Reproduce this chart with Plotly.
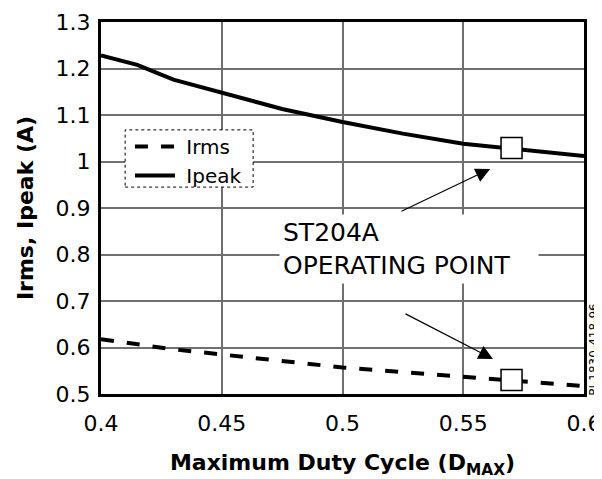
import plotly.graph_objects as go

# Maximum duty cycle (x axis)
d_max = [0.4, 0.415, 0.43, 0.45, 0.475, 0.5, 0.525, 0.55, 0.575, 0.6]
# current curves
ipeak = [1.228, 1.208, 1.176, 1.148, 1.113, 1.085, 1.06, 1.038, 1.025, 1.012]
irms = [0.618, 0.606, 0.596, 0.585, 0.57, 0.557, 0.547, 0.537, 0.527, 0.517]

# ST204A operating point
op_d = [0.57, 0.57]
op_i = [1.029, 0.530]

FONT = "DejaVu Sans"

fig = go.Figure()

fig.add_trace(go.Scatter(
    x=d_max, y=irms, mode="lines", name="\u00a0Irms",
    line=dict(color="black", width=4, dash="13px,13px"),
))
fig.add_trace(go.Scatter(
    x=d_max, y=ipeak, mode="lines", name="\u00a0Ipeak",
    line=dict(color="black", width=4),
))
fig.add_trace(go.Scatter(
    x=op_d, y=op_i, mode="markers", showlegend=False,
    marker=dict(symbol="square", size=21, color="white",
                line=dict(color="black", width=1.5)),
))

# legend frame (dotted box, white fill hides the grid)
fig.add_shape(type="rect", xref="x", yref="y",
              x0=0.41, x1=0.463, y0=0.945, y1=1.068,
              fillcolor="white", line=dict(color="black", width=1, dash="dot"),
              layer="above")

# operating point label + arrows
fig.add_annotation(
    x=0.4737, y=0.8108, xref="x", yref="y", xanchor="left", yanchor="middle",
    text="ST204A<br>OPERATING POINT", showarrow=False, align="left",
    width=252, bgcolor="white", borderpad=3,
    font=dict(family=FONT, size=25, color="black"),
)
for tail, head in [((0.5238, 0.8914), (0.5611, 0.984)),
                   ((0.5255, 0.674), (0.5623, 0.5753))]:
    fig.add_annotation(
        x=head[0], y=head[1], ax=tail[0], ay=tail[1],
        xref="x", yref="y", axref="x", ayref="y", text="",
        showarrow=True, arrowhead=2, arrowsize=2.4, arrowwidth=1.2,
        arrowcolor="black",
    )

# drawing number at right edge
fig.add_annotation(
    x=1.02, y=0.118, xref="paper", yref="paper", text="PI-1830-418-96",
    xanchor="center", yanchor="middle",
    showarrow=False, textangle=-90, font=dict(family=FONT, size=12, color="black"),
)

axis_common = dict(
    showline=True, linecolor="black", linewidth=3, mirror=True,
    showgrid=True, gridcolor="#707070", gridwidth=1.5,
    zeroline=False, ticks="", automargin=False,
    tickfont=dict(family=FONT, size=22, color="black"),
)

# the page body adds an 8px offset, so margins are trimmed by that amount
fig.update_layout(
    width=602, height=479,
    margin=dict(l=93, r=26, t=14, b=93),
    paper_bgcolor="white", plot_bgcolor="white",
    font=dict(family=FONT, color="black"),
    xaxis=dict(
        range=[0.4, 0.6], dtick=0.05, tick0=0.4, ticklabelstandoff=8,
        title=dict(text="<b>Maximum Duty Cycle (D<sub>MAX</sub>)</b>",
                   font=dict(family=FONT, size=22), standoff=20),
        **axis_common,
    ),
    yaxis=dict(
        range=[0.5, 1.3], dtick=0.1, tick0=0.5, ticklabelstandoff=3,
        title=dict(text="<b>Irms, Ipeak (A)</b>",
                   font=dict(family=FONT, size=22), standoff=16),
        **axis_common,
    ),
    legend=dict(
        x=0.06, y=0.718, xanchor="left", yanchor="top",
        bgcolor="rgba(0,0,0,0)", borderwidth=0,
        font=dict(family=FONT, size=20, color="black"),
        tracegroupgap=0, itemwidth=40,
    ),
    showlegend=True,
)

fig.write_html("out.html")
